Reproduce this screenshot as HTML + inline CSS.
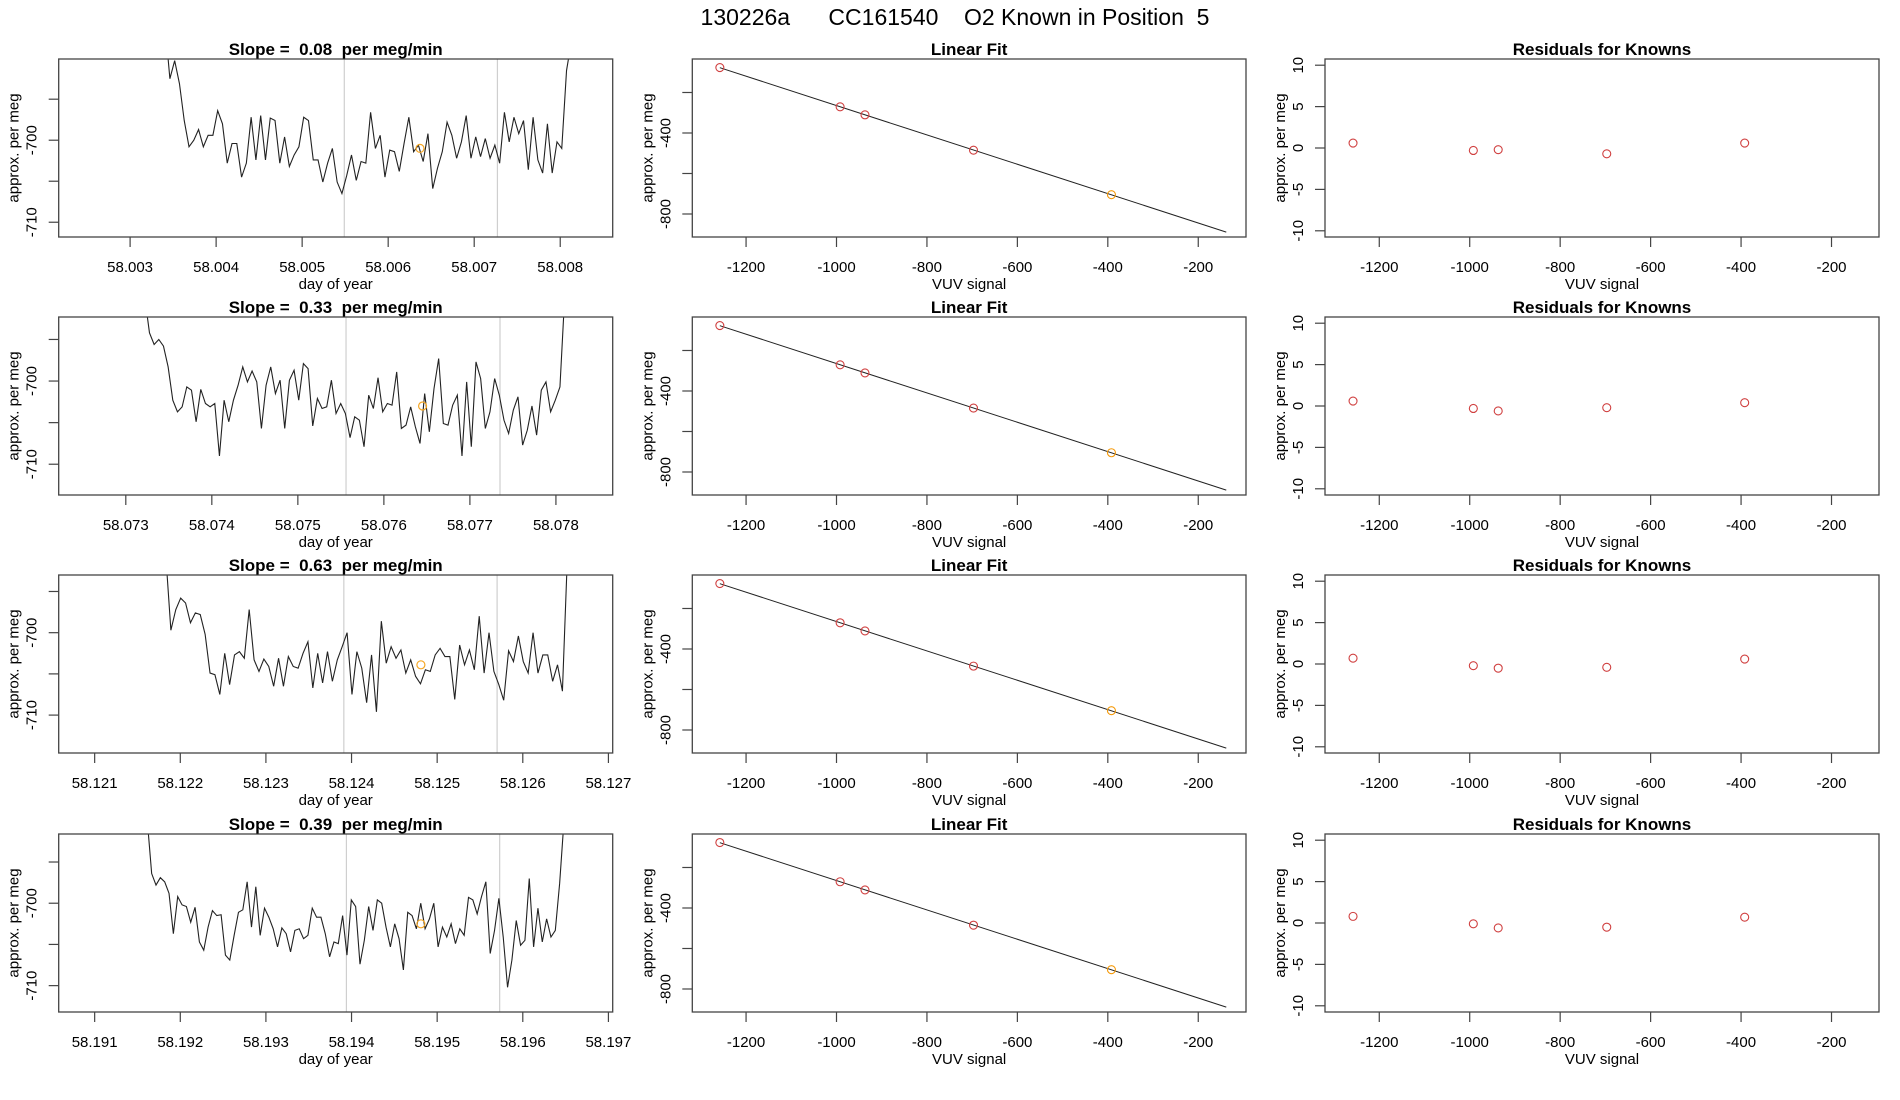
<!DOCTYPE html>
<html><head><meta charset="utf-8"><title>130226a CC161540</title>
<style>
html,body{margin:0;padding:0;background:#fff;}
svg{display:block;font-family:"Liberation Sans",Arial,sans-serif;}
.pre{white-space:pre;}
</style></head>
<body>
<svg id="chart" width="1900" height="1100" viewBox="0 0 1900 1100" xmlns="http://www.w3.org/2000/svg">
<rect x="0" y="0" width="1900" height="1100" fill="#fff"/>
<text class="pre" x="955" y="25" font-size="23" text-anchor="middle" fill="#000">130226a      CC161540    O2 Known in Position  5</text>
</svg>
<script>
// ---- data ----
const slopes = ["0.08","0.33","0.63","0.39"];
const tsStart = [58.003407, 58.073221, 58.121833, 58.191615];
const tsEnd   = [58.008129, 58.078101, 58.126520, 58.196481];
const xRangeTS = [[58.00217,58.00861],[58.07222,58.07866],[58.12058,58.12705],[58.12058+0.07,58.12705+0.07]];
const xTicksTS = [
 ["58.003","58.004","58.005","58.006","58.007","58.008"],
 ["58.073","58.074","58.075","58.076","58.077","58.078"],
 ["58.121","58.122","58.123","58.124","58.125","58.126","58.127"],
 ["58.191","58.192","58.193","58.194","58.195","58.196","58.197"]];
const yRangeTS = [[-690.1,-711.8],[-692.3,-713.7],[-693.0,-714.6],[-691.6,-713.2]];
const yTicksTS = [-695,-700,-705,-710];
const yTickLabelsTS = ["-700","-710"];
const vLines = [[58.00549,58.00727],[58.07556,58.07735],[58.12391,58.1257],[58.19394,58.19573]];
const orangeT = [58.00637, 58.07645, 58.12481, 58.19481];
const orangeV = [-701.0, -703.0, -703.9, -702.5];
const series1 = [-686,-692.5,-690.3,-693.1,-697.6,-700.8,-700,-698.7,-700.8,-699.4,-699.4,-696.4,-698.0,-702.8,-700.4,-700.4,-704.5,-702.8,-697.2,-702.4,-697.0,-702.4,-697.3,-697.6,-702.8,-699.6,-703.2,-701.8,-700.8,-697.2,-697.6,-702.4,-702.4,-705.1,-702.8,-701.0,-705.1,-706.5,-704.3,-701.8,-704.9,-702.6,-702.8,-696.6,-701.0,-699.4,-704.5,-701.2,-701.4,-703.8,-700.4,-697.2,-701.4,-700.6,-702.6,-699.2,-705.9,-703.4,-701.4,-697.8,-699.4,-702.2,-700.2,-697.0,-702.2,-699.6,-702.0,-699.8,-702.2,-700.6,-702.8,-696.6,-700.2,-697.2,-699.2,-697.6,-703.6,-697.2,-702.4,-704.0,-698.0,-704.0,-700.2,-701.0,-691.5,-688];
const series2 = [-690,-694.2,-695.6,-695.0,-695.8,-698.3,-702.3,-703.7,-703.1,-700.7,-701.1,-704.9,-701.0,-702.7,-703.1,-702.7,-709.0,-702.3,-704.9,-702.3,-700.5,-698.3,-700.1,-698.8,-700.1,-705.7,-700.5,-698.3,-701.5,-699.9,-705.7,-699.9,-698.7,-702.3,-697.9,-698.5,-705.4,-702.1,-703.3,-703.1,-699.9,-703.9,-702.7,-703.9,-706.8,-704.3,-704.7,-707.9,-701.7,-703.3,-699.6,-703.7,-702.7,-702.9,-698.9,-705.7,-705.3,-703.1,-705.5,-707.5,-701.5,-706.1,-700.9,-697.3,-705.1,-705.3,-702.9,-701.7,-709.0,-700.1,-707.9,-697.7,-699.7,-705.7,-703.7,-699.7,-701.7,-704.7,-706.3,-703.5,-701.9,-707.7,-705.9,-703.0,-706.5,-701.1,-700.1,-703.7,-702.3,-700.7,-690];
const series3 = [-691,-699.7,-697.2,-695.8,-696.4,-698.8,-697.6,-697.8,-700.2,-704.9,-705.1,-707.5,-702.5,-706.3,-702.7,-702.3,-703.1,-697.2,-703.3,-704.7,-703.2,-704.1,-706.5,-703.1,-706.5,-702.9,-704.1,-704.3,-702.5,-701.1,-706.7,-702.5,-706.1,-702.3,-705.9,-703.3,-701.7,-700.0,-707.5,-702.3,-704.3,-708.5,-702.7,-709.6,-698.6,-703.7,-701.7,-703.1,-702.1,-704.9,-703.3,-705.3,-706.2,-704.5,-704.7,-702.7,-701.9,-702.9,-702.9,-708.1,-701.5,-703.9,-702.1,-704.5,-698.0,-704.9,-700.0,-704.7,-706.3,-708.2,-702.2,-703.5,-700.4,-703.5,-704.9,-700.0,-704.9,-702.7,-702.7,-705.9,-703.9,-707.1,-691];
const series4 = [-690,-696.4,-697.8,-696.9,-697.4,-698.8,-703.7,-699.2,-700.2,-700.4,-702.3,-700.5,-704.7,-705.7,-702.9,-700.9,-701.5,-701.4,-706.3,-706.9,-703.9,-701.1,-700.8,-697.4,-702.9,-698.0,-703.9,-700.6,-701.7,-703.1,-705.3,-703.0,-703.7,-705.9,-703.3,-703.1,-704.3,-703.9,-700.6,-701.7,-701.7,-703.7,-706.5,-704.7,-704.9,-701.5,-706.3,-699.6,-700.4,-707.4,-704.5,-700.4,-703.3,-699.6,-700.0,-702.9,-705.3,-702.5,-704.3,-708.1,-701.1,-701.5,-703.1,-700.0,-703.1,-701.9,-700.0,-705.3,-702.9,-704.1,-702.5,-704.9,-703.1,-703.9,-699.3,-699.6,-701.3,-699.2,-697.4,-706.1,-703.3,-699.4,-704.1,-710.2,-706.9,-702.1,-705.1,-704.5,-697.0,-705.3,-700.6,-704.7,-701.9,-704.1,-703.3,-697.6,-690];
const allSeries = [series1, series2, series3, series4];

const knownSignal = [-1258, -992, -937, -697, -392];
const fitIntercept = -989.5;
const fitSlope = -0.725;
const fitXEnd = [-1258, -138];
const residuals = [
 [0.6,-0.3,-0.2,-0.7,0.6],
 [0.6,-0.3,-0.6,-0.2,0.4],
 [0.7,-0.2,-0.5,-0.4,0.6],
 [0.8,-0.1,-0.6,-0.5,0.7]];
const fitXTicks = [-1200,-1000,-800,-600,-400,-200];
const fitYTicks = [-200,-400,-600,-800];
const fitYTickLabels = ["-400","-800"];
const resYTicks = [10,5,0,-5,-10];

// ---- layout ----
const NS = "http://www.w3.org/2000/svg";
const svg = document.getElementById("chart");
const rowTop = [59,317,575,834];
const H = 178;
const P1 = [58.7,612.7], P2 = [692.3,1246], P3 = [1325,1879];
const fitXR = [-1318.9,-94.4], fitYR = [-34.6,-913.6];
const resXR = [-1320,-95], resYR = [10.75,-10.75];

function mk(tag, attrs, parent){
  const e = document.createElementNS(NS, tag);
  for (const k in attrs) e.setAttribute(k, attrs[k]);
  (parent||svg).appendChild(e); return e;
}
function lin(d0,d1,r0,r1){ return v => r0 + (v-d0)/(d1-d0)*(r1-r0); }
function txt(x,y,s,size,opts,parent){
  const t = mk("text",Object.assign({x:x,y:y,"font-size":size,fill:"#000","text-anchor":"middle"},opts||{}),parent);
  t.textContent = s; return t;
}

function frame(g,L,R,T){
  const b = mk("rect",{x:L,y:T,width:R-L,height:H,fill:"none",stroke:"#444","stroke-width":1.3},g);
  
  
}
function yAxis(g,L,T,sy,ticks,labels,labelVals,title){
  ticks.forEach(v=>{ mk("line",{x1:L-10,x2:L,y1:sy(v),y2:sy(v),stroke:"#444","stroke-width":1.2},g); });
  labelVals.forEach((v,i)=>{
    const t = txt(0,0,labels[i],15,{transform:`translate(${L-22},${sy(v)}) rotate(-90)`},g);
    
    
  });
  const a = txt(0,0,title,15,{transform:`translate(${L-40},${T+H/2}) rotate(-90)`},g);
  
  
}
function xAxis(g,T,sx,vals,labels,title,cx){
  vals.forEach((v,i)=>{
    mk("line",{x1:sx(v),x2:sx(v),y1:T+H,y2:T+H+10,stroke:"#444","stroke-width":1.2},g);
    const t = txt(sx(v),T+H+35,labels[i],15,{},g);
    
    
  });
  const a = txt(cx,T+H+52,title,15,{},g);
  
  
}

for (let r=0;r<4;r++){
  const T = rowTop[r];
  // ---- panel 1: time series ----
  const g1 = mk("g",{});
  
  
  const sx = lin(xRangeTS[r][0],xRangeTS[r][1],P1[0],P1[1]);
  const sy = lin(yRangeTS[r][0],yRangeTS[r][1],T,T+H);
  const clipId = "clip"+r;
  const cp = mk("clipPath",{id:clipId},g1);
  mk("rect",{x:P1[0],y:T,width:P1[1]-P1[0],height:H},cp);
  vLines[r].forEach(v=>{
    const l = mk("line",{x1:sx(v),x2:sx(v),y1:T,y2:T+H,stroke:"#cfcfcf","stroke-width":1.2},g1);
    
    
  });
  const s = allSeries[r];
  const dt = (tsEnd[r]-tsStart[r])/(s.length-1);
  let d = "";
  s.forEach((v,i)=>{ d += (i?"L":"M")+sx(tsStart[r]+i*dt).toFixed(2)+","+sy(v).toFixed(2); });
  const p = mk("path",{d:d,fill:"none",stroke:"#222","stroke-width":1.1,"clip-path":`url(#${clipId})`},g1);
  
  
  const oc = mk("circle",{cx:sx(orangeT[r]),cy:sy(orangeV[r]),r:4,fill:"none",stroke:"#f5a623","stroke-width":1.2},g1);
  
  
  frame(g1,P1[0],P1[1],T);
  yAxis(g1,P1[0],T,sy,yTicksTS,yTickLabelsTS,[-700,-710],"approx. per meg");
  const tv = xTicksTS[r].map(Number);
  xAxis(g1,T,sx,tv,xTicksTS[r],"day of year",(P1[0]+P1[1])/2);
  const t1 = txt((P1[0]+P1[1])/2,T-4,"Slope =  "+slopes[r]+"  per meg/min",17,{"font-weight":"bold","class":"pre"},g1);
  
  

  // ---- panel 2: linear fit ----
  const g2 = mk("g",{});
  
  
  const fx = lin(fitXR[0],fitXR[1],P2[0],P2[1]);
  const fy = lin(fitYR[0],fitYR[1],T,T+H);
  const fl = mk("line",{x1:fx(fitXEnd[0]),y1:fy(fitIntercept+fitSlope*fitXEnd[0]),x2:fx(fitXEnd[1]),y2:fy(fitIntercept+fitSlope*fitXEnd[1]),stroke:"#222","stroke-width":1},g2);
  
  
  knownSignal.forEach((x,i)=>{
    const v = fitIntercept+fitSlope*x+residuals[r][i];
    const c = mk("circle",{cx:fx(x),cy:fy(v),r:4,fill:"none",stroke:i===4?"#f59a0a":"#d04040","stroke-width":1.1},g2);
    
    
  });
  frame(g2,P2[0],P2[1],T);
  yAxis(g2,P2[0],T,fy,fitYTicks,fitYTickLabels,[-400,-800],"approx. per meg");
  xAxis(g2,T,fx,fitXTicks,fitXTicks.map(String),"VUV signal",(P2[0]+P2[1])/2);
  const t2 = txt((P2[0]+P2[1])/2,T-4,"Linear Fit",17,{"font-weight":"bold"},g2);
  
  

  // ---- panel 3: residuals ----
  const g3 = mk("g",{});
  
  
  const rx = lin(resXR[0],resXR[1],P3[0],P3[1]);
  const ry = lin(resYR[0],resYR[1],T,T+H);
  knownSignal.forEach((x,i)=>{
    const c = mk("circle",{cx:rx(x),cy:ry(residuals[r][i]),r:4,fill:"none",stroke:"#d04040","stroke-width":1.1},g3);
    
    
  });
  frame(g3,P3[0],P3[1],T);
  yAxis(g3,P3[0],T,ry,resYTicks,resYTicks.map(String),resYTicks,"approx. per meg");
  xAxis(g3,T,rx,fitXTicks,fitXTicks.map(String),"VUV signal",(P3[0]+P3[1])/2);
  const t3 = txt((P3[0]+P3[1])/2,T-4,"Residuals for Knowns",17,{"font-weight":"bold"},g3);
  
  
}
</script>
</body></html>
